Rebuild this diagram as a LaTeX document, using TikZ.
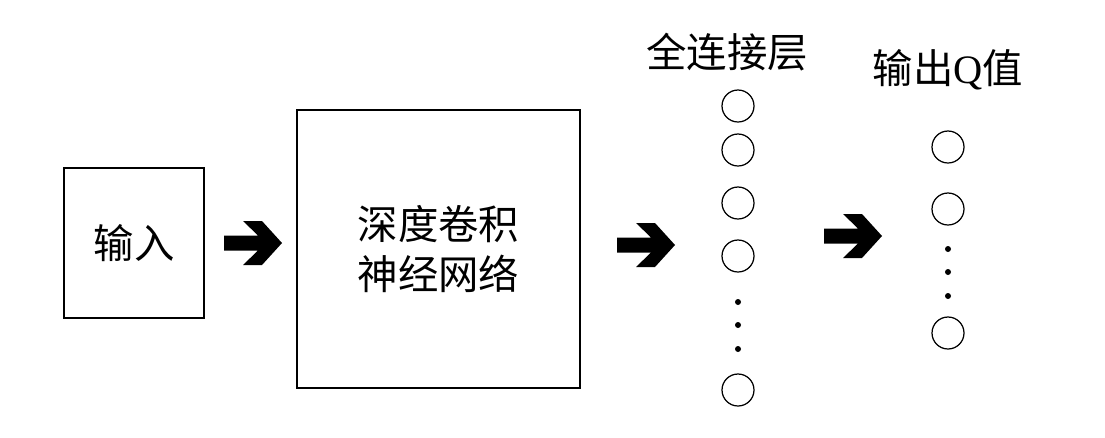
\documentclass[tikz,border=0pt]{standalone}
\usepackage{fontspec}
\setmainfont{Liberation Serif}
\newfontfamily\cjk{Noto Sans CJK SC}
\usetikzlibrary{positioning,calc}

\begin{document}
\begin{tikzpicture}[
    x=0.02cm, y=-0.02cm,
    box/.style={draw, line width=1.1pt, rectangle, text centered, align=center,
        font=\cjk\fontsize{23}{29}\selectfont},
    neuron/.style={draw, circle, line width=0.7pt, minimum size=0.64cm, inner sep=0pt},
    dotnode/.style={fill, circle, minimum size=0.12cm, inner sep=0pt},
    layerlabel/.style={font=\cjk\fontsize{23}{28}\selectfont},
    fatarrow/.pic={
        \fill (-29,-7.5) -- (5,-7.5) -- (-10,-22) -- (9,-22) -- (29,0)
            -- (9,22) -- (-10,22) -- (5,7.5) -- (-29,7.5) -- cycle;
    }
]
\useasboundingbox (0,0) rectangle (1105,437);

\node (input) [box, minimum width=2.8cm, minimum height=3cm] at (134,243) {输入};
\node (cnn) [box, minimum width=5.66cm, minimum height=5.56cm] at (438.5,249) {深度卷积\\神经网络};

% fully connected layer
\node (fc1) [neuron] at (738,106) {};
\node (fc2) [neuron] at (738,150) {};
\node (fc3) [neuron] at (738,203) {};
\node (fc4) [neuron] at (738,256) {};
\node (fcd1) [dotnode] at (738,302) {};
\node (fcd2) [dotnode] at (738,325) {};
\node (fcd3) [dotnode] at (738,349) {};
\node (fc5) [neuron] at (738,390) {};
\node (fclabel) [layerlabel] at (727,52) {全连接层};

% output layer
\node (out1) [neuron] at (948,147) {};
\node (out2) [neuron] at (948,209) {};
\node (outd1) [dotnode] at (948,249) {};
\node (outd2) [dotnode] at (948,272) {};
\node (outd3) [dotnode] at (948,296) {};
\node (out3) [neuron] at (948,333) {};
\node (outlabel) [layerlabel] at (948,70) {输出{\rmfamily Q}值};

\pic at (253,243) {fatarrow};
\pic at (646,245) {fatarrow};
\pic at (853,236) {fatarrow};
\end{tikzpicture}
\end{document}
